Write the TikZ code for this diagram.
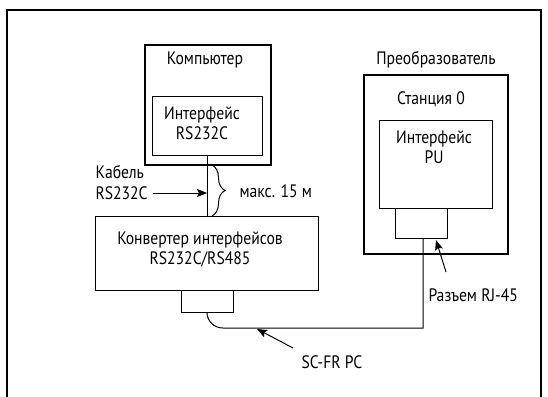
\documentclass[tikz,border=0pt]{standalone}
\usepackage{fontspec}
\setmainfont[FakeStretch=0.87]{PT Sans}
\usetikzlibrary{arrows.meta,calc,decorations.pathreplacing}

\tikzset{
  thickbox/.style={draw, line width=2pt, inner sep=0pt},
  thinbox/.style={draw, line width=1pt, inner sep=0pt},
  txt/.style={font=\fontsize{18}{20}\selectfont, inner sep=0pt, align=center},
  pointer/.style={-{Stealth[length=10pt,width=8pt,inset=2pt]}, line width=1pt}
}

\begin{document}
\begin{tikzpicture}[x=1pt, y=-1pt, line width=1pt]
\useasboundingbox (0,0) rectangle (548,396);
% outer frame, open at the bottom
\draw [line width=2pt] (7,400) -- (7,10) -- (541,10) -- (541,400);

% computer with its port
\node [thickbox, minimum width=126pt, minimum height=120pt] (pc) at (208,105) {};
\node [thinbox, minimum width=110pt, minimum height=59pt] (pcif) at (207,125.5) {};
\node [txt] (pcname) at (205,60) {Компьютер};
\node [txt] (pciftxt) at (202,123.5) {Интерфейс\\RS232C};

% interface converter
\node [thinbox, minimum width=223pt, minimum height=74pt] (conv) at (206.5,253) {};
\node [thinbox, minimum width=52pt, minimum height=22pt] (convport) at (207,301) {};
\node [txt] (convtxt) at (200,249) {Конвертер интерфейсов\\RS232C/RS485};

% inverter, station 0
\node [thickbox, minimum width=144pt, minimum height=179pt] (inv) at (436,164.5) {};
\node [thinbox, minimum width=113pt, minimum height=88pt] (invif) at (435.5,164) {};
\node [thinbox, minimum width=52pt, minimum height=30pt] (rj) at (421,223) {};
\node [txt] (invname) at (436,60) {Преобразователь};
\node [txt] (station) at (431,99) {Станция 0};
\node [txt] (inviftxt) at (434,147.5) {Интерфейс\\PU};

% RS232C cable and its length
\coordinate (cabin) at (207,193);
\draw (pcif.south -| cabin) -- (conv.north -| cabin);
\draw [decorate, decoration={brace, amplitude=13pt}] (212,165) -- (212,216);
\node [txt, anchor=west] (maxlen) at (239,191) {макс. 15 м};
\node [txt, anchor=west] (cabA) at (95,172) {Кабель};
\node [txt, anchor=west] (cabB) at (95,193) {RS232C};
\draw [pointer] ($(cabB.east)+(5,0)$) -- (cabin);

% SC-FR PC cable
\coordinate (rjp) at (423,238);
\draw (convport.south) to[out=-90, in=180] (223,328) -- (rjp |- 0,328) -- (rjp);

% labels with pointers
\node [txt, anchor=west] (rjlbl) at (428,295) {Разъем RJ-45};
\coordinate (rjtip) at (436,240);
\draw [pointer] (446,272) -- (rjtip);
\node [txt] (sclbl) at (332,362) {SC-FR PC};
\coordinate (sctip) at (257,329);
\draw [pointer] (293,348) -- (sctip);
\end{tikzpicture}
\end{document}
